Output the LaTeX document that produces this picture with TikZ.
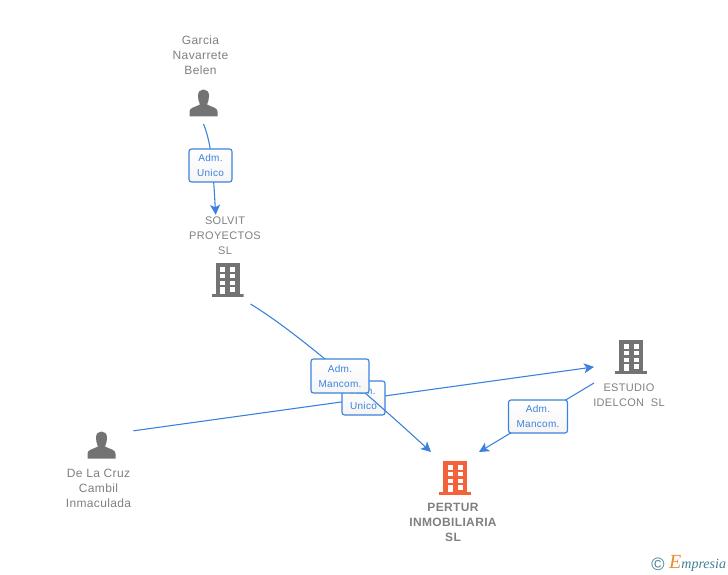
\documentclass[tikz,border=0pt]{standalone}
\usepackage{fontspec}
\setmainfont{Liberation Sans}[LetterSpace=3]
\newfontfamily\logofont{Liberation Serif}
\usetikzlibrary{arrows.meta}
\definecolor{linkblue}{HTML}{3C82DC}
\definecolor{icongray}{HTML}{737373}
\definecolor{textgray}{HTML}{808080}
\definecolor{iconorange}{HTML}{F4623A}
\definecolor{logoteal}{HTML}{3F7F93}
\definecolor{logoorange}{HTML}{EE8A2E}
\tikzset{
  edge/.style={draw=linkblue, line width=1.1pt, -{Stealth[length=10pt,width=10pt,inset=2.5pt]}},
  rolebox/.style={draw=linkblue, line width=1.1pt, rounded corners=2.5pt, top color=white, bottom color=white!96!black,
    text=linkblue, inner sep=0pt, align=center, font=\fontsize{10}{15}\selectfont},
  namelabel/.style={text=textgray, inner sep=0pt, align=center, font=\fontsize{12}{15}\selectfont},
  firmlabel/.style={namelabel, font=\fontsize{11}{15}\selectfont},
  personicon/.style={inner sep=0pt, minimum width=28pt, minimum height=28pt, path picture={
    \fill[icongray, shift={(path picture bounding box.center)}]
      (-14,13.5)--(-14,8.5) .. controls (-14,4.5) and (-8,4) .. (-3.5,1.5)
      .. controls (-5,-2) and (-5.5,-4) .. (-5.5,-7.5) .. controls (-5.5,-11.5) and (-3,-13.5) .. (0,-13.5)
      .. controls (3,-13.5) and (5.5,-11.5) .. (5.5,-7.5) .. controls (5.5,-4) and (5,-2) .. (3.5,1.5)
      .. controls (8,4) and (14,4.5) .. (14,8.5)--(14,13.5)--cycle;
  }},
  buildingicon/.style={inner sep=0pt, minimum width=32pt, minimum height=34pt, path picture={
    \begin{scope}[shift={(path picture bounding box.center)}]
    \fill[#1] (-12,-17) rectangle (12,14);
    \fill[#1] (-16,14) rectangle (16,17);
    \foreach \y in {-12.7,-6,0.7}{
      \fill[white] (-7.5,\y) rectangle ++(5,4.4);
      \fill[white] (2.7,\y) rectangle ++(5,4.4);
    }
    \fill[white] (-7.5,7.3) rectangle (-2.5,14.4);
    \fill[white] (2.7,7.3) rectangle ++(5,4.4);
    \end{scope}
  }},
}
\begin{document}
\begin{tikzpicture}[x=1pt,y=-1pt]
\useasboundingbox (0,0) rectangle (728,575);

%people
\node[personicon, outer ysep=7pt] (garcia) at (203.5,103) {};
\node[namelabel] (garcialabel) at (200.5,55.5) {Garcia\\Navarrete\\Belen};
\node[personicon, outer xsep=18pt] (inmaculada) at (101.5,445) {};
\node[namelabel] (inmaculadalabel) at (98.5,488.7) {De La Cruz\\Cambil\\Inmaculada};

%companies
\node[buildingicon=icongray, outer sep=7pt] (solvit) at (227.5,280) {};
\node[firmlabel, outer sep=2pt] (solvitlabel) at (225,235.7) {SOLVIT\\PROYECTOS\\SL};
\node[buildingicon=icongray, outer xsep=21pt, outer ysep=9pt] (estudio) at (631,357) {};
\node[firmlabel] (estudiolabel) at (629,395) {ESTUDIO\\IDELCON\ \ SL};
\node[buildingicon=iconorange, outer xsep=8pt, outer ysep=9pt] (pertur) at (455,478) {};
\node[namelabel, font=\fontsize{12}{15}\selectfont\bfseries] (pertlabel) at (453,522.7) {PERTUR\\INMOBILIARIA\\SL};

%links
\draw[edge] (garcia.south) .. controls (212,145) and (213,170) .. (solvitlabel.114);
\node[rolebox, minimum width=43pt, minimum height=33pt] (garciarole) at (210.5,165.5) {Adm.\\Unico};

\draw[edge] (inmaculada.north east)--(estudio.195);
\node[rolebox, minimum width=43pt, minimum height=34pt] (inmaculadarole) at (363.5,398) {Adm.\\Unico};

\draw[edge] (solvit.south east) .. controls (290,328) and (350,378) .. (pertur.north west);
\node[rolebox, minimum width=58pt, minimum height=34pt] (solvitrole) at (340,376) {Adm.\\Mancom.};

\draw[edge] (estudio.south west)--(pertur.north east);
\node[rolebox, minimum width=59pt, minimum height=33pt] (estudiorole) at (538,416.5) {Adm.\\Mancom.};

%logo
\node[text=logoteal, inner sep=0pt, font=\fontsize{18}{18}\selectfont] (copyright) at (658,564) {©};
\node[inner sep=0pt, anchor=base west, font=\logofont\itshape\fontsize{14}{14}\selectfont, text=logoteal] (empresia) at (669,568)
  {\textcolor{logoorange}{\fontsize{20}{20}\selectfont E}mpresia};
\end{tikzpicture}
\end{document}
